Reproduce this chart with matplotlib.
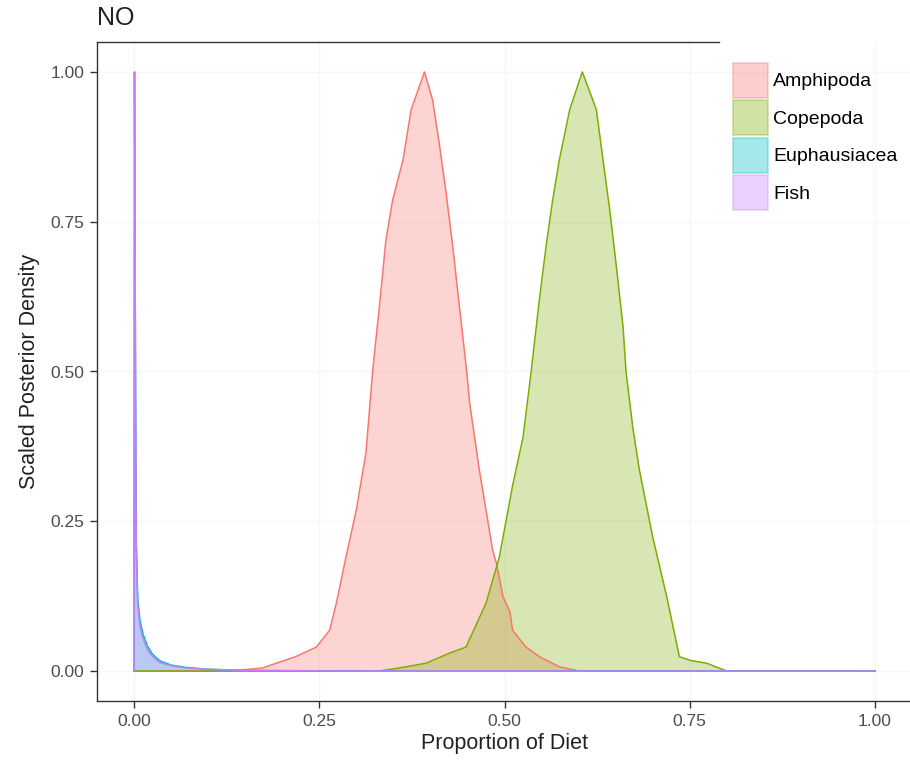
import numpy as np
import matplotlib
matplotlib.use('Agg')
from matplotlib import pyplot as plt
from matplotlib.patches import Patch

plt.rcParams['font.family'] = ['Liberation Sans', 'DejaVu Sans']

# values (proportion of diet vs scaled density)
amph_x = [0.0, 0.128, 0.173, 0.218, 0.246, 0.264, 0.273, 0.286, 0.300, 0.313,
          0.322, 0.333, 0.340, 0.349, 0.363, 0.374, 0.392, 0.403, 0.412, 0.421,
          0.430, 0.439, 0.449, 0.453, 0.466, 0.484, 0.489, 0.498, 0.507, 0.511,
          0.529, 0.547, 0.574, 0.601, 1.0]
amph_y = [0.0, 0.0, 0.005, 0.024, 0.040, 0.068, 0.113, 0.190, 0.269, 0.364,
          0.50, 0.631, 0.720, 0.786, 0.853, 0.937, 1.0, 0.953, 0.880, 0.800,
          0.710, 0.610, 0.50, 0.447, 0.336, 0.202, 0.18, 0.124, 0.10, 0.068,
          0.040, 0.024, 0.007, 0.0, 0.0]

cope_x = [0.0, 0.33, 0.358, 0.394, 0.426, 0.448, 0.475, 0.493, 0.511, 0.525,
          0.536, 0.547, 0.556, 0.565, 0.574, 0.588, 0.605, 0.624, 0.633, 0.642,
          0.651, 0.660, 0.664, 0.673, 0.682, 0.700, 0.719, 0.736, 0.750, 0.773,
          0.800, 1.0]
cope_y = [0.0, 0.0, 0.005, 0.013, 0.030, 0.040, 0.113, 0.190, 0.310, 0.390,
          0.50, 0.619, 0.708, 0.786, 0.853, 0.937, 1.0, 0.937, 0.853, 0.770,
          0.675, 0.575, 0.50, 0.408, 0.336, 0.224, 0.124, 0.024, 0.018, 0.013,
          0.0, 0.0]

euph_x = [0.0, 0.0006, 0.002, 0.003, 0.005, 0.008, 0.012, 0.018, 0.025, 0.035,
          0.05, 0.07, 0.10, 0.15, 0.30, 1.0]
euph_y = [0.0, 1.0, 0.50, 0.22, 0.12, 0.085, 0.062, 0.042, 0.028, 0.017,
          0.010, 0.006, 0.003, 0.001, 0.0, 0.0]

fish_x = [0.0, 0.0006, 0.002, 0.003, 0.005, 0.008, 0.012, 0.018, 0.025, 0.035,
          0.05, 0.07, 0.10, 0.15, 0.30, 1.0]
fish_y = [0.0, 1.0, 0.45, 0.20, 0.11, 0.075, 0.055, 0.036, 0.024, 0.014,
          0.009, 0.005, 0.003, 0.001, 0.0, 0.0]

groups = ['Amphipoda', 'Copepoda', 'Euphausiacea', 'Fish']
colors = ['#F8766D', '#7CAE00', '#00BFC4', '#C77CFF']
xs = [amph_x, cope_x, euph_x, fish_x]
ys = [amph_y, cope_y, euph_y, fish_y]

x_ticks = [0.0, 0.25, 0.5, 0.75, 1.0]
y_ticks = [0.0, 0.25, 0.5, 0.75, 1.0]

fig = plt.figure(figsize=(9.1, 7.61), dpi=100)
ax = fig.add_axes([97 / 910, 1 - 701 / 761, 815 / 910, 659 / 761])

for x, y, c in zip(xs, ys, colors):
    ax.fill_between(x, y, 0, color=c, alpha=0.3, linewidth=0)
    ax.plot(x, y, color=c, lw=1.1)

ax.set_xlim(-0.05, 1.05)
ax.set_ylim(-0.05, 1.05)
ax.set_xticks(x_ticks)
ax.set_xticklabels(['%.2f' % t for t in x_ticks])
ax.set_yticks(y_ticks)
ax.set_yticklabels(['%.2f' % t for t in y_ticks])
ax.grid(True, color='#f6f6f6', lw=1.0)
ax.set_axisbelow(True)

for s in ['left', 'bottom', 'top']:
    ax.spines[s].set_color('#333333')
    ax.spines[s].set_linewidth(1.0)
ax.spines['right'].set_visible(False)
ax.spines['top'].set_bounds(-0.05, 0.79)
ax.tick_params(colors='#333333', length=5, width=1.0, labelsize=12.5,
               labelcolor='#4d4d4d', pad=4)

ax.set_xlabel('Proportion of Diet', fontsize=15.5, color='#222222', labelpad=3)
ax.set_ylabel('Scaled Posterior Density', fontsize=15.5, color='#222222',
              labelpad=8)
fig.text(97 / 910, 1 - 18 / 761, 'NO', fontsize=18, color='#222222',
         ha='left', va='center')

handles = [Patch(facecolor=c, edgecolor=c, alpha=0.35, lw=1.2) for c in colors]
leg = ax.legend(handles, groups, loc='upper left',
                bbox_to_anchor=(733 / 910, 1 - 63 / 761),
                bbox_transform=fig.transFigure, frameon=False, fontsize=14,
                handlelength=1.8, handleheight=2.39, handletextpad=0.26,
                labelspacing=0.13, borderaxespad=0, borderpad=0)
for h, c in zip(leg.legend_handles, colors):
    h.set_edgecolor(c)

plt.savefig('out.png', dpi=100)
